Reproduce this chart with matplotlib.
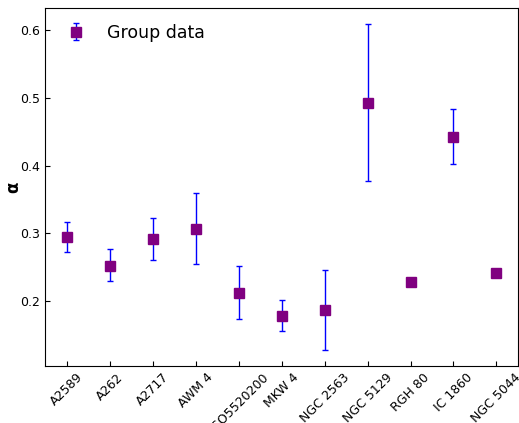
import matplotlib
matplotlib.use("Agg")
import matplotlib.pyplot as plt

# 그룹별 alpha 값과 오차
groups = ["A2589", "A262", "A2717", "AWM 4", "ESO5520200", "MKW 4",
          "NGC 2563", "NGC 5129", "RGH 80", "IC 1860", "NGC 5044"]
alpha = [0.294, 0.252, 0.292, 0.307, 0.211, 0.178, 0.187, 0.493, 0.228, 0.443, 0.242]
err_lo = [0.022, 0.023, 0.031, 0.053, 0.038, 0.023, 0.059, 0.116, 0.003, 0.041, 0.0]
err_hi = [0.023, 0.025, 0.031, 0.053, 0.040, 0.024, 0.059, 0.116, 0.003, 0.041, 0.0]

fig = plt.figure(figsize=(5.19, 4.23), dpi=100)
ax = fig.add_axes([0.087, 0.135, 0.911, 0.846])

x = list(range(len(groups)))
ax.errorbar(x, alpha, yerr=[err_lo, err_hi], fmt="s", color="purple",
            ecolor="blue", elinewidth=1, capsize=2.5, markersize=6.5,
            label="Group data")

ax.set_xticks(x)
ax.set_xticklabels(groups, rotation=45)
ax.set_yticks([0.2, 0.3, 0.4, 0.5, 0.6])
ax.tick_params(direction="in", labelsize=9)
ax.set_ylabel("α", fontsize=12, fontweight="bold")
ax.yaxis.set_label_coords(-0.049, 0.5)
ax.legend(loc="upper left", frameon=False, fontsize=12.5,
          bbox_to_anchor=(-0.005, 1.0))

plt.savefig("out.png")
